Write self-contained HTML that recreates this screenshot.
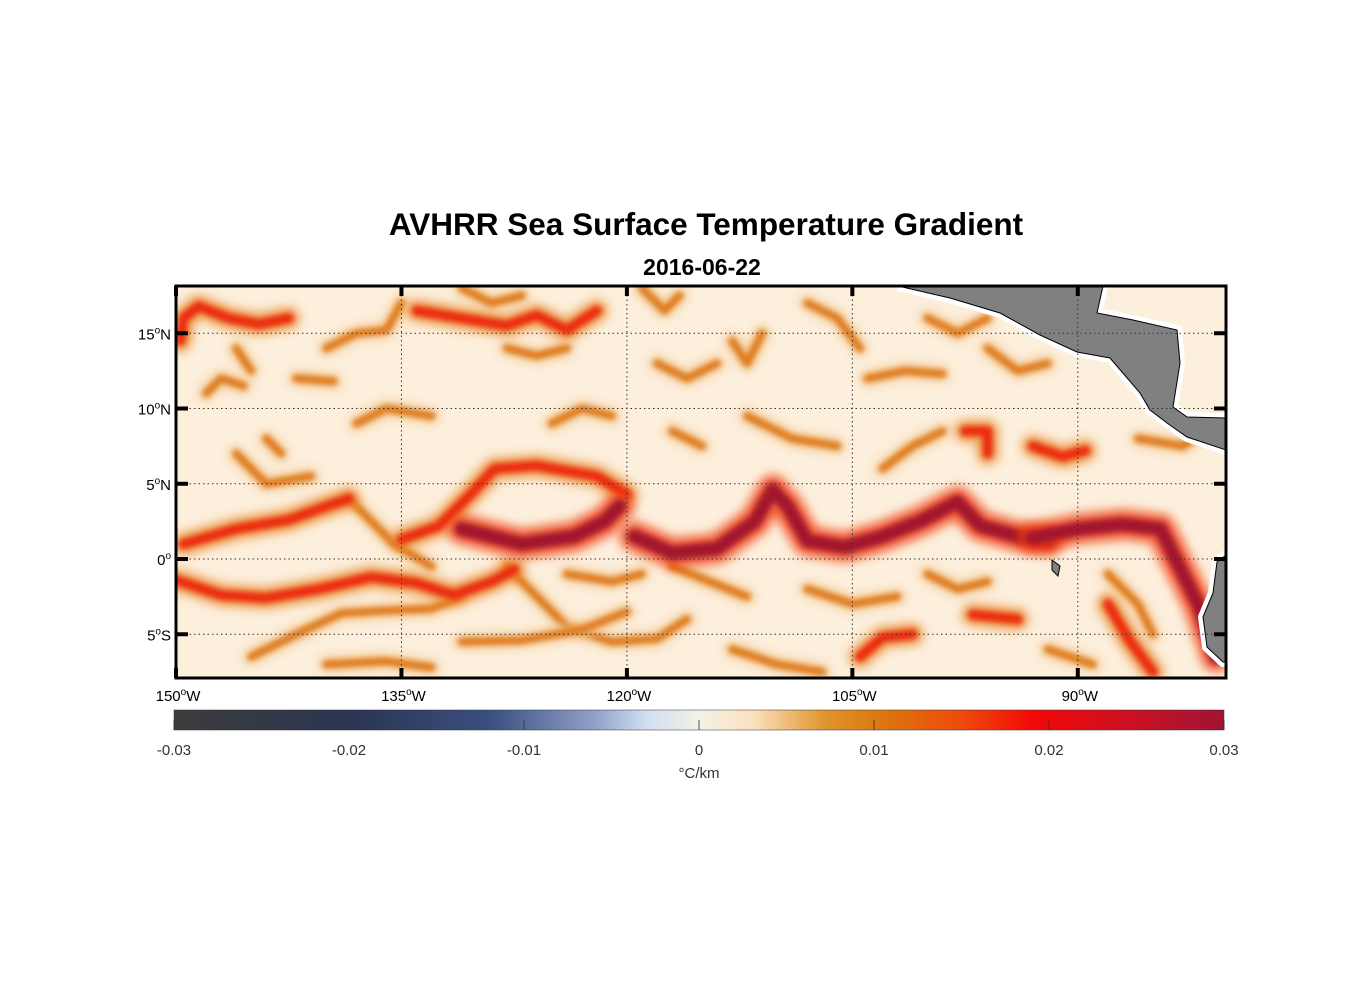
<!DOCTYPE html>
<html><head><meta charset="utf-8"><style>
body{margin:0;background:#fff;}
svg text{font-family:"Liberation Sans",Arial,sans-serif;}
</style></head><body>
<svg id="s" width="1356" height="1000" xmlns="http://www.w3.org/2000/svg">
<defs>
<filter id="bl" filterUnits="userSpaceOnUse" x="150" y="260" width="1100" height="450"><feGaussianBlur stdDeviation="2.6"/></filter>
<filter id="bl2" filterUnits="userSpaceOnUse" x="150" y="260" width="1100" height="450"><feGaussianBlur stdDeviation="5"/></filter>
<clipPath id="mc"><rect x="176" y="286" width="1050" height="392"/></clipPath>
<linearGradient id="cb" x1="0" x2="1" y1="0" y2="0">
<stop offset="0" stop-color="#3c3c3c"/>
<stop offset="0.17" stop-color="#2a3552"/>
<stop offset="0.3" stop-color="#3a4f80"/>
<stop offset="0.4" stop-color="#8fa0c8"/>
<stop offset="0.45" stop-color="#d0dff0"/>
<stop offset="0.5" stop-color="#f4f1e8"/>
<stop offset="0.55" stop-color="#fbe2c0"/>
<stop offset="0.62" stop-color="#e0952e"/>
<stop offset="0.67" stop-color="#da7a10"/>
<stop offset="0.75" stop-color="#ee4a0a"/>
<stop offset="0.82" stop-color="#f40808"/>
<stop offset="0.9" stop-color="#d01020"/>
<stop offset="1" stop-color="#a01435"/>
</linearGradient>
</defs>
<text x="706" y="235" text-anchor="middle" font-size="31.5" font-weight="bold">AVHRR Sea Surface Temperature Gradient</text>
<text x="702" y="275" text-anchor="middle" font-size="23" font-weight="bold">2016-06-22</text>
<g clip-path="url(#mc)">
<rect x="176" y="286" width="1050" height="392" fill="#fcefdc"/>
<g id="fronts"></g>
<g id="land"></g>
<g id="grid"></g>
</g>
<rect x="176" y="286" width="1050" height="392" fill="none" stroke="#000" stroke-width="3"/>
<g id="ticks"></g>
<rect x="174" y="710" width="1050" height="20" fill="url(#cb)" stroke="#333" stroke-width="0.5"/>
<g id="cbt"></g>
<text x="699" y="778" text-anchor="middle" font-size="15" fill="#333">°C/km</text>
</svg>
<script>
const lonTicks=[150,135,120,105,90];
const latTicks=[15,10,5,0,-5];
const cbTicks=[-0.03,-0.02,-0.01,0,0.01,0.02,0.03];
const cbLabels=["-0.03","-0.02","-0.01","0","0.01","0.02","0.03"];
// fronts: [degrees West, latitude]
const frontsOrange=[
 [[138.5,4.0],[137,2.5],[135.5,1.0],[133,-0.5]],
 [[145,-6.5],[142,-5.0],[139,-3.6],[135.5,-3.4],[133,-3.3],[131,-2.5]],
 [[128,-0.5],[126,-2.5],[124,-4.5],[121,-5.5],[118,-5.3],[116,-4.0]],
 [[131,-5.5],[127,-5.4],[123,-4.7],[120,-3.5]],
 [[117,-0.5],[114.5,-1.5],[112,-2.5]],
 [[92,-6],[89,-7]],
 [[146,14],[145,12.5]],[[142,12],[139.5,11.8]],
 [[140,14],[138,15],[136,15.2],[135,17]],
 [[131,18],[129,17],[127,17.5]],
 [[119,18],[117.5,16.5],[116.5,17.5]],
 [[113,14.5],[112,13],[111,15]],
 [[108,17],[106,16],[104.5,14]],
 [[104,12],[101.5,12.5],[99,12.3]],
 [[112,9.5],[109,8],[106,7.5]],
 [[103,6],[101,7.5],[99,8.5]],
 [[86,8],[83,7.5],[81,9]],
 [[144,8],[143,7]],
 [[96,14],[94,12.5],[92,13]],
 [[88,-1],[86,-3],[85,-5]],
 [[108,-2],[105,-3],[102,-2.5]],
 [[148,11],[147,12],[145.5,11.5]],
 [[128,14],[126,13.5],[124,14]],
 [[118,13],[116,12],[114,13]],
 [[100,16],[98,15],[96,16]],
 [[138,9],[136,10],[133,9.5]],
 [[125,9],[123,10],[121,9.5]],
 [[117,8.5],[115,7.5]],
 [[146,7],[144,5],[141,5.5]],
 [[124,-1],[121,-1.5],[119,-1]],
 [[100,-1],[98,-2],[96,-1.5]],
 [[113,-6],[110,-7],[107,-7.5]],
 [[140,-7],[136,-6.8],[133,-7.2]]
];
const frontsRed=[
 [[149.5,1.0],[146,2.0],[142.5,2.6],[140,3.5],[138.5,4.0]],
 [[135,1.3],[132.5,2.2],[130.5,4.2],[128.8,6.0],[126,6.2],[122,5.5],[120,4.3]],
 [[150,-1.4],[147,-2.4],[144,-2.6],[140.5,-2.0],[137,-1.2],[134,-1.6],[131.5,-2.4],[129,-1.5],[127.5,-0.7]],
 [[104.5,-6.5],[103,-5.2],[101,-5.0]],[[97,-3.7],[94,-4.0]],
 [[88,-3.0],[86.5,-5.5],[85,-7.5]],
 [[149.7,14.5],[149.5,16],[148.5,16.8],[146.5,16],[144.5,15.6],[142.5,16]],
 [[134,16.5],[131,16],[128,15.5],[126,16.2],[124,15.2],[122,16.5]],
 [[96,7],[96,8.5],[97.5,8.5]],
 [[93,7.5],[91,6.8],[89.5,7.2]]
];
const frontsCrimson=[
 [[131,2.0],[127,1.0],[123.5,1.5],[121.5,2.5],[120.5,3.5]],
 [[119.5,1.5],[117,0.4],[114,0.7],[111.5,2.5],[110.3,4.6],[109.3,3.5],[108,1.2],[105.5,0.8],[103,1.5],[100.5,2.5],[98,3.8],[96.5,2.2],[94,1.5],[92,1.2]],
 [[93,1.4],[90,2.0],[87,2.3],[84.5,2.0],[83.5,0],[82,-3],[80.8,-6.5]]
];
const NS="http://www.w3.org/2000/svg";
const X=w=>176+(150-w)*15.03, Y=l=>559-l*15.05;
const CB=v=>699+v*17500;
function mk(t,a,p){const e=document.createElementNS(NS,t);for(const k in a)e.setAttribute(k,a[k]);p.appendChild(e);return e;}
const fg=document.getElementById('fronts');
function pathOf(pts){return 'M'+pts.map(p=>X(p[0]).toFixed(1)+','+Y(p[1]).toFixed(1)).join(' L');}
function draw(list,halo,core,wh,wc){
 list.forEach(pts=>{
  const h=mk('path',{d:pathOf(pts),fill:'none',stroke:halo,'stroke-width':wh,'stroke-linecap':'round','stroke-linejoin':'round',filter:'url(#bl2)',opacity:0.8},fg);
  
  
  const c=mk('path',{d:pathOf(pts),fill:'none',stroke:core,'stroke-width':wc,'stroke-linecap':'round','stroke-linejoin':'round',filter:'url(#bl)'},fg);
  
  
 });
}
draw(frontsOrange,'#f2c38a','#df7a1c',16,8);
draw(frontsRed,'#e8862a','#ec2a0c',22,10);
draw(frontsCrimson,'#ee3a10','#a3162f',30,14);
// land
const lg=document.getElementById('land');
const ca=[[898,286],[1103,286],[1097,313],[1133,320],[1177,330],[1180,363],[1173,407],[1187,417],[1226,418],[1226,450],[1187,437],[1167,423],[1150,410],[1140,393],[1110,358],[1077,352],[1040,335],[1000,313],[950,298]];
const sa=[[1226,555],[1217,562],[1213,593],[1203,617],[1207,647],[1223,662],[1226,662]];
[ca,sa].forEach(pl=>{
 const d='M'+pl.map(p=>p.join(',')).join(' L')+'Z';
 const w=mk('path',{d:d,fill:'#fff',stroke:'#fff','stroke-width':10},lg);
 
 
 const l=mk('path',{d:d,fill:'#808080',stroke:'#000','stroke-width':1},lg);
 
 
});
const gal=mk('path',{d:'M1052,560 L1060,566 L1058,576 L1052,570 Z',fill:'#808080',stroke:'#000','stroke-width':1},lg);


// grid
const gg=document.getElementById('grid');
lonTicks.forEach(w=>{const l=mk('line',{x1:X(w),x2:X(w),y1:286,y2:678,stroke:'#333','stroke-width':1,'stroke-dasharray':'1.5,3'},gg);
 
 });
latTicks.forEach(v=>{const l=mk('line',{x1:176,x2:1226,y1:Y(v),y2:Y(v),stroke:'#333','stroke-width':1,'stroke-dasharray':'1.5,3'},gg);
 
 });
// ticks
const tg=document.getElementById('ticks');
lonTicks.forEach(w=>{
 [[286,296],[668,678]].forEach(r=>{const t=mk('line',{x1:X(w),x2:X(w),y1:r[0],y2:r[1],stroke:'#000','stroke-width':4},tg);
  
  });
 const tx=mk('text',{x:X(w)+2,y:701,'text-anchor':'middle','font-size':15},tg);
 
 
 tx.innerHTML=w+'<tspan dy="-6" font-size="10">o</tspan><tspan dy="6">W</tspan>';
});
latTicks.forEach(v=>{
 [[176,188],[1214,1226]].forEach(r=>{const t=mk('line',{x1:r[0],x2:r[1],y1:Y(v),y2:Y(v),stroke:'#000','stroke-width':4},tg);
  
  });
 const tx=mk('text',{x:171,y:Y(v)+6,'text-anchor':'end','font-size':15},tg);
 
 
 const suf=v>0?'N':(v<0?'S':'');
 tx.innerHTML=Math.abs(v)+'<tspan dy="-6" font-size="10">o</tspan><tspan dy="6">'+suf+'</tspan>';
});
// colorbar ticks
const cg=document.getElementById('cbt');
cbTicks.forEach((v,i)=>{
 const t=mk('line',{x1:CB(v),x2:CB(v),y1:720,y2:730,stroke:'#333','stroke-width':0.8},cg);
 
 
 const tx=mk('text',{x:CB(v),y:755,'text-anchor':'middle','font-size':15,fill:'#333'},cg);
 
 
 tx.textContent=cbLabels[i];
});
</script>
</body></html>
